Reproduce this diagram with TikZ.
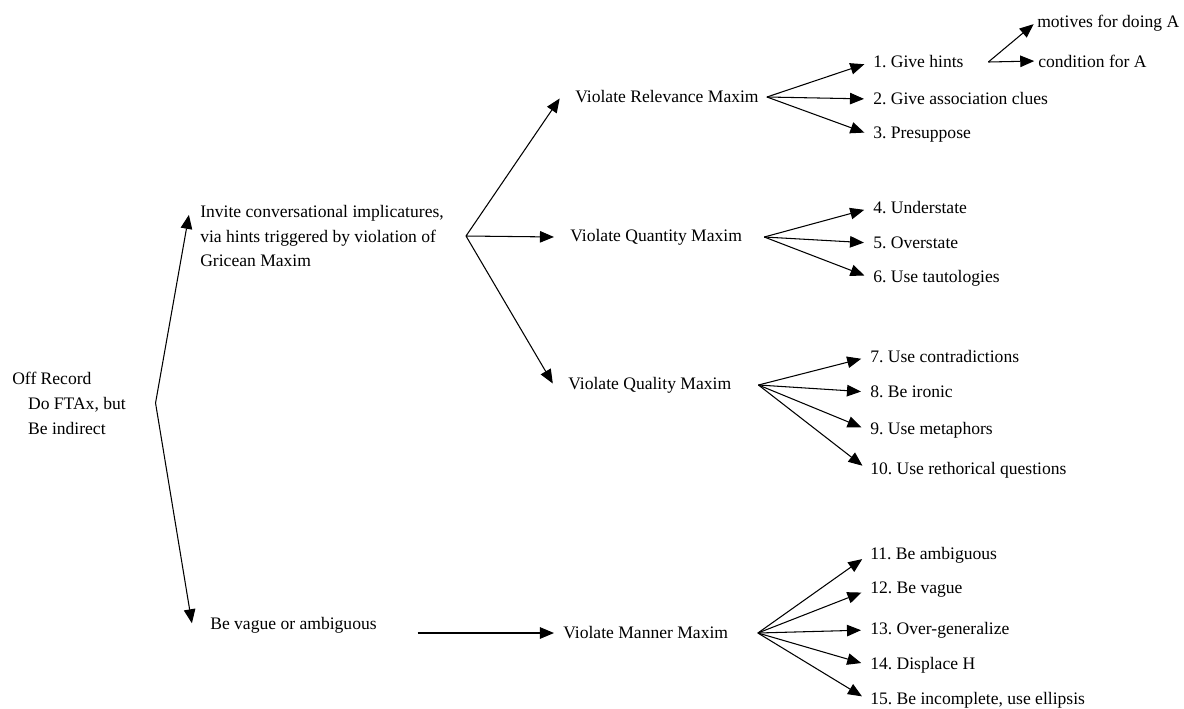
\documentclass[tikz,border=0pt]{standalone}
\usepackage{fontspec}
\setmainfont{Liberation Serif}
\usetikzlibrary{positioning,arrows.meta}
\frenchspacing

\begin{document}
\begin{tikzpicture}[x=0.02cm,y=-0.02cm,>={Triangle[length=2.8mm,width=2.3mm]},line width=0.6pt,
		every node/.style={anchor=west,inner sep=1pt},
		block/.style={align=left,font=\fontsize{10}{14.2}\selectfont},
		link/.style={->,shorten >=4pt},
		midlink/.style={->,shorten >=1pt}]
		\useasboundingbox (0,0) rectangle (1184,708);

		% left part
		\node[block] (root) at (10,403) {Off Record\\\hspace{9pt}Do FTAx, but\\\hspace{9pt}Be indirect};
		\node[block] (invite) at (198,236) {Invite conversational implicatures,\\via hints triggered by violation of\\Gricean Maxim};
		\node (vague) at (208,625) {Be vague or ambiguous};

		\node (rel)  at (573,97)  {Violate Relevance Maxim};
		\node (quan) at (568,237) {Violate Quantity Maxim};
		\node (qual) at (566,385) {Violate Quality Maxim};
		\node (man)  at (561,633) {Violate Manner Maxim};

		\coordinate[right=0.55cm of root] (rootfork);
		\coordinate[right=0.4cm of invite] (invfork);
		\coordinate[right=0.12cm of rel]  (relfork);
		\coordinate[right=0.4cm of quan]  (quanfork);
		\coordinate[right=0.5cm of qual]  (qualfork);
		\coordinate[right=0.55cm of man]  (manfork);

		% strategies
		\node (h1)  at (871,62)  {1. Give hints};
		\node (h2)  at (871,99)  {2. Give association clues};
		\node (h3)  at (871,135) {3. Presuppose};
		\node (h4)  at (871,208) {4. Understate};
		\node (h5)  at (871,243) {5. Overstate};
		\node (h6)  at (871,278) {6. Use tautologies};
		\node (h7)  at (868,357) {7. Use contradictions};
		\node (h8)  at (868,392) {8. Be ironic};
		\node (h9)  at (868,430) {9. Use metaphors};
		\node (h10) at (868,470) {10. Use rethorical questions};
		\node (h11) at (868,555) {11. Be ambiguous};
		\node (h12) at (868,590) {12. Be vague};
		\node (h13) at (868,630) {13. Over-generalize};
		\node (h14) at (868,665) {14. Displace H};
		\node (h15) at (868,700) {15. Be incomplete, use ellipsis};

		\coordinate[right=0.45cm of h1] (hintfork);
		\node (motive) at (1035,23) {motives for doing A};
		\node (cond)   at (1036,61) {condition for A};

		\path[midlink]
			(rootfork) edge ([xshift=-5pt,yshift=-6pt]invite.north west)
			           edge ([xshift=-9pt]vague.west)
			(invfork) edge ([xshift=-7pt]rel.west)
			          edge ([xshift=-7pt]quan.west)
			          edge ([xshift=-7pt]qual.west)
		;
		\draw[link,shorten <=22pt] (vague.east |- man.west) -- (man.west);

		\path[link]
			(relfork) edge (h1.west) edge (h2.west) edge (h3.west)
			(quanfork) edge (h4.west) edge (h5.west) edge (h6.west)
			(qualfork) edge (h7.west) edge (h8.west) edge (h9.west) edge (h10.west)
			(manfork) edge (h11.west) edge (h12.west) edge (h13.west)
			          edge (h14.west) edge (h15.west)
		;
		\path[midlink]
			(hintfork) edge (motive.west) edge (cond.west)
		;
\end{tikzpicture}
\end{document}
